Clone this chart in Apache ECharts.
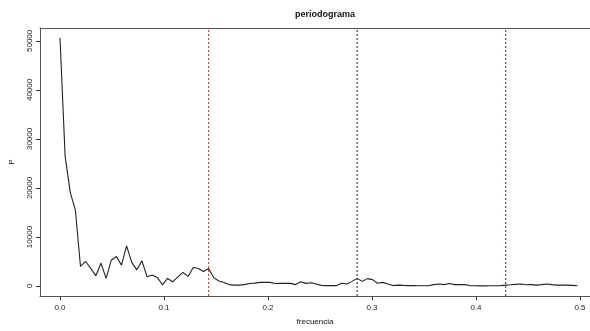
<!DOCTYPE html>
<html>
<head>
<meta charset="utf-8">
<script src="https://cdn.jsdelivr.net/npm/echarts@6/dist/echarts.min.js"></script>
<style>
  html, body { margin: 0; padding: 0; background: #ffffff; }
  #chart { width: 590px; height: 331px; }
</style>
</head>
<body>
<div id="chart"></div>
<script>
// Periodogram ordinates at the Fourier frequencies k / nObs, k = 0..101
const nObs = 203;
const periodogram = [
  50600, 26500, 19100, 15500, 4000, 5020, 3600, 2090, 4670, 1560,
  5280, 6040, 4270, 8190, 4820, 3310, 5140, 1890, 2240, 1770,
  260, 1560, 870, 1890, 2780, 1970, 3800, 3600, 2990, 3600,
  1730, 1020, 710, 300, 200, 200, 300, 510, 610, 750,
  750, 750, 510, 550, 550, 550, 300, 870, 550, 670,
  410, 140, 100, 100, 100, 570, 410, 960, 1570, 960,
  1520, 1320, 570, 750, 410, 100, 200, 140, 100, 100,
  60, 60, 100, 300, 410, 300, 510, 300, 300, 300,
  100, 60, 40, 40, 60, 60, 100, 200, 260, 350,
  410, 260, 300, 200, 300, 410, 300, 200, 200, 200,
  140, 60
];

// Weekly cycle harmonics marked with vertical reference lines
const harmonicFreqs = [1 / 7, 2 / 7, 3 / 7];
const harmonicColors = ['#c83a3a', '#3a1414', '#4a1818'];

// Axis tick labels
const xTicks = [0, 0.1, 0.2, 0.3, 0.4, 0.5];
const yTicks = [0, 10000, 20000, 30000, 40000, 50000];

// Plot window
const xMin = -0.01923, xMax = 0.50962;
const yMin = -2024, yMax = 52624;

const points = periodogram.map((p, k) => [k / nObs, p]);

const chart = echarts.init(document.getElementById('chart'), null, { renderer: 'canvas' });

const font = 'Liberation Sans, Arial, Helvetica, sans-serif';
const frameColor = '#555';

const harmonicSeries = harmonicFreqs.map((f, k) => ({
  type: 'line',
  data: [[f, yMin], [f, yMax]],
  showSymbol: false,
  silent: true,
  lineStyle: { color: harmonicColors[k], type: [2, 2], width: 1 },
  z: 1
}));

chart.setOption({
  animation: false,
  backgroundColor: '#ffffff',
  title: {
    text: 'periodograma',
    left: 320,
    top: 5,
    textAlign: 'center',
    textStyle: { fontFamily: font, fontSize: 9, fontWeight: 'bold', color: '#111' }
  },
  grid: {
    left: 40,
    top: 28,
    right: 0,
    bottom: 34,
    show: false
  },
  xAxis: [
    {
      type: 'value',
      min: xMin,
      max: xMax,
      name: 'frecuencia',
      nameLocation: 'middle',
      nameGap: 22,
      nameTextStyle: { fontFamily: font, fontSize: 8, color: '#111' },
      axisLine: { show: true, onZero: false, lineStyle: { color: frameColor, width: 1 } },
      axisTick: { show: true, length: 4, customValues: xTicks, lineStyle: { color: '#333' } },
      axisLabel: {
        customValues: xTicks,
        margin: 8,
        fontFamily: font,
        fontSize: 8,
        color: '#222',
        formatter: v => v.toFixed(1)
      },
      splitLine: { show: false }
    },
    {
      // top edge of the plot frame
      type: 'value',
      position: 'top',
      min: xMin,
      max: xMax,
      axisLine: { show: true, onZero: false, lineStyle: { color: frameColor, width: 1 } },
      axisTick: { show: false },
      axisLabel: { show: false },
      splitLine: { show: false }
    }
  ],
  yAxis: {
    type: 'value',
    min: yMin,
    max: yMax,
    name: 'P',
    nameLocation: 'middle',
    nameGap: 24,
    nameRotate: 90,
    nameTextStyle: { fontFamily: font, fontSize: 8, color: '#111' },
    axisLine: { show: true, onZero: false, lineStyle: { color: frameColor, width: 1 } },
    axisTick: { show: true, length: 4, customValues: yTicks, lineStyle: { color: '#333' } },
    axisLabel: {
      customValues: yTicks,
      rotate: 90,
      margin: 6,
      fontFamily: font,
      fontSize: 8,
      color: '#222',
      formatter: v => String(v)
    },
    splitLine: { show: false }
  },
  series: [
    ...harmonicSeries,
    {
      type: 'line',
      data: points,
      showSymbol: false,
      silent: true,
      lineStyle: { color: '#222', width: 1.1 },
      z: 2
    }
  ]
});
</script>
</body>
</html>
